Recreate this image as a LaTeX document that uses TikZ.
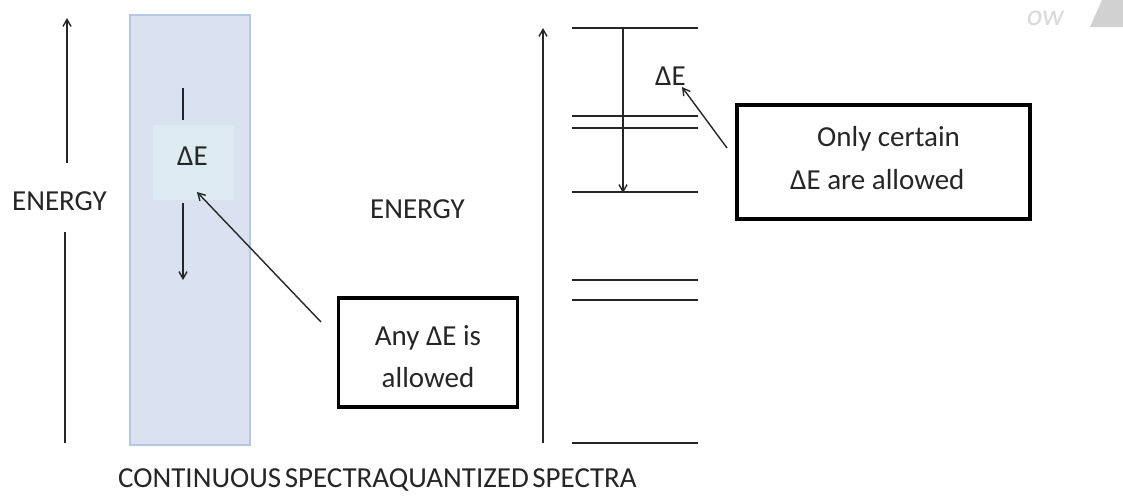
\documentclass[tikz,border=0pt]{standalone}
\usepackage{fontspec}
\setmainfont{Carlito}
\usetikzlibrary{arrows.meta}
\begin{document}
\begin{tikzpicture}[x=1pt,y=-1pt,
  txt/.style={font=\fontsize{29}{34}\selectfont, text=black!85, inner sep=0pt},
  level/.style={line width=1.8pt, black!85},
  arr/.style={line width=1.4pt, black!85, -{Straight Barb[length=7pt,width=8pt,line width=1.4pt]}},
  plain/.style={line width=1.4pt, black!85},
  msgbox/.style={draw=black, line width=3.5pt, fill=white, inner sep=0pt}]
\useasboundingbox (0,0) rectangle (1123,496);
\fill[white] (0,0) rectangle (1123,496);
% ---- faint watermark fragment (top right)
\node[font=\fontsize{30}{34}\selectfont\itshape, text=black!15, inner sep=0pt, anchor=base west] (wm) at (1027,25) {ow};
\fill[black!18] (1102,0) -- (1123,0) -- (1123,27) -- (1090,27) -- cycle;
% ---- left: continuous spectrum
\coordinate (la1) at (67,163);
\coordinate (la2) at (67,18);
\draw[arr] (la1) -- (la2);
\coordinate (lb1) at (65,232);
\coordinate (lb2) at (65,443);
\draw[plain] (lb1) -- (lb2);
\node[txt, anchor=base west] (energy1) at (12,210) {ENERGY};
\node[draw={rgb,255:red,180;green,199;blue,228}, line width=2pt, fill={rgb,255:red,218;green,226;blue,242},
      minimum width=120pt, minimum height=430pt, inner sep=0pt] (band) at (190,230) {};
\node[fill={rgb,255:red,220;green,234;blue,241}, minimum width=81pt, minimum height=75pt, inner sep=0pt] (debg) at (193,162) {};
\node[txt, anchor=base west] (de1) at (177,165) {ΔE};
\coordinate (s1) at (183,88);
\coordinate (s2) at (183,120);
\draw[plain] (s1) -- (s2);
\coordinate (d1) at (183,203);
\coordinate (d2) at (183,280);
\draw[arr] (d1) -- (d2);
\node[msgbox, minimum width=179pt, minimum height=109pt] (any) at (428,352.5) {};
\node[txt, anchor=base] (anyt1) at (428,345) {Any ΔE is};
\node[txt, anchor=base] (anyt2) at (428,387) {allowed};
\coordinate (p1) at (321,322);
\coordinate (p2) at (197,192);
\draw[arr] (p1) -- (p2);
% ---- middle / right: quantized spectrum
\node[txt, anchor=base west] (energy2) at (370,218) {ENERGY};
\coordinate (ra1) at (543,443);
\coordinate (ra2) at (543,28);
\draw[arr] (ra1) -- (ra2);
\foreach \y/\n in {28/l1,116/l2,128/l3,192/l4,280/l5,300/l6,443/l7}{
  \coordinate (\n a) at (572,\y);
  \coordinate (\n b) at (698,\y);
  \draw[level] (\n a) -- (\n b);
}
\coordinate (q1) at (623,28);
\coordinate (q2) at (623,193);
\draw[arr] (q1) -- (q2);
\node[txt, anchor=base west] (de2) at (655,85) {ΔE};
\node[msgbox, minimum width=293pt, minimum height=114pt] (only) at (883.5,162) {};
\node[txt, anchor=base west] (onlyt1) at (817,146) {Only certain};
\node[txt, anchor=base west] (onlyt2) at (790,189) {ΔE are allowed};
\coordinate (r1) at (727,148);
\coordinate (r2) at (682,87);
\draw[arr] (r1) -- (r2);
% ---- bottom caption
\node[txt, anchor=base west] (cap) at (118,487) {CONTINUOUS\hspace{-3pt} SPECTRAQUANTIZED\hspace{-3pt} SPECTRA};
\end{tikzpicture}
\end{document}
